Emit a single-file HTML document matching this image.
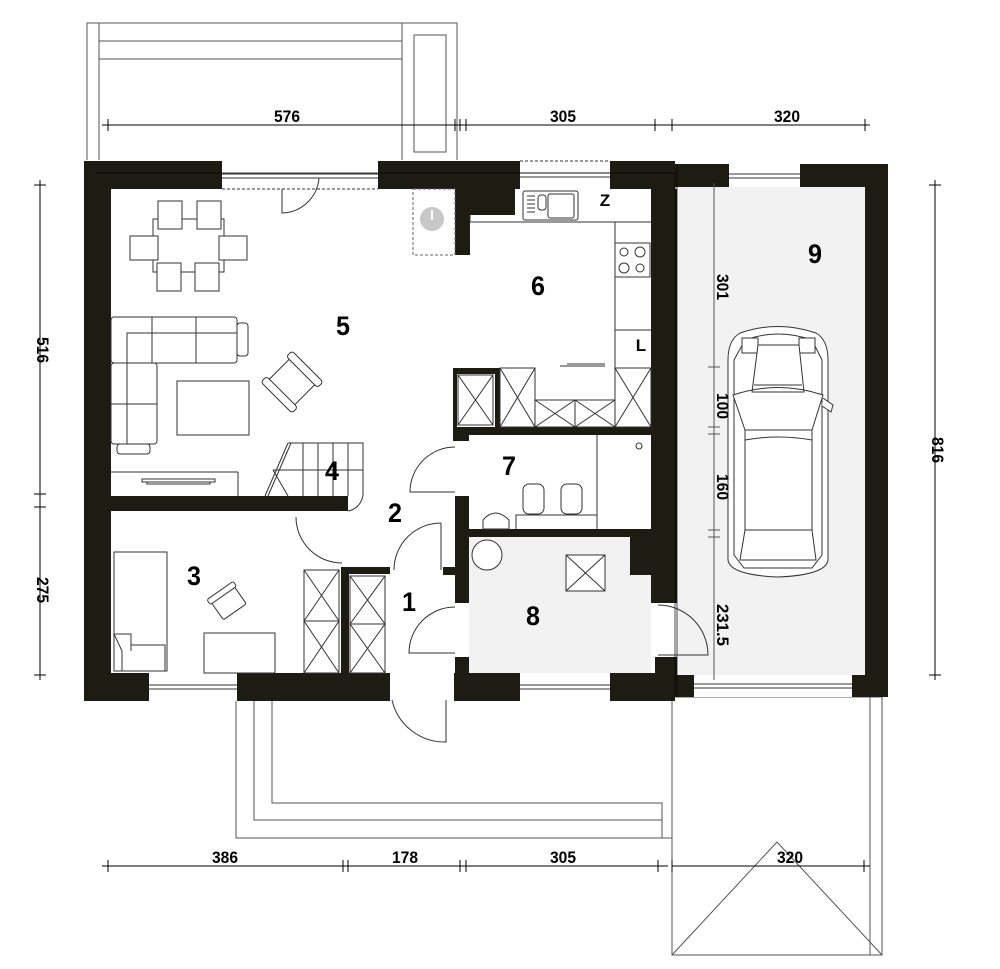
<!DOCTYPE html>
<html><head><meta charset="utf-8"><style>
html,body{margin:0;padding:0;background:#fff}
svg{display:block}
text{font-family:"Liberation Sans Narrow","Liberation Sans",sans-serif;font-weight:bold;fill:#000}
.t{font-size:17px}
.r{font-size:27px}
</style></head><body>
<svg width="1000" height="969" viewBox="0 0 1000 969" xmlns="http://www.w3.org/2000/svg">
<g fill="none" stroke="#555" stroke-width="1">
<path d="M87 160V23H457V160M99 160V23M99 41H402M99 59H402M402 23V160"/>
<rect x="414" y="35" width="32" height="117"/>
<path d="M236 700V838H672M254 700V820H662M272 700V803H662V838"/>
<rect x="672" y="697" width="210" height="258"/>
<path d="M870 697V955M672 955L777 842L882 955"/>
</g>
<rect x="675" y="187" width="190" height="488" fill="#f2f2f2"/>
<rect x="469" y="537" width="182" height="136" fill="#f2f2f2"/>
<g fill="#1c1c12">
<rect x="84" y="161" width="27" height="540"/>
<rect x="84" y="161" width="591" height="28"/>
<rect x="675" y="164" width="213" height="23"/>
<rect x="865" y="164" width="23" height="533"/>
<rect x="675" y="675" width="213" height="22"/>
<rect x="651" y="189" width="26" height="414"/>
<rect x="655" y="657" width="22" height="40"/>
<rect x="84" y="673" width="591" height="28"/>
<rect x="110" y="496" width="238" height="15"/>
<rect x="455" y="189" width="15" height="66"/>
<rect x="455" y="427" width="196" height="8"/>
<rect x="453" y="368" width="47" height="6"/>
<rect x="453" y="368" width="4" height="60"/>
<rect x="495" y="368" width="5" height="60"/>
<rect x="453" y="427" width="16" height="14"/>
<rect x="455" y="529" width="196" height="8"/>
<rect x="455" y="496" width="14" height="107"/>
<rect x="455" y="657" width="14" height="44"/>
<rect x="443" y="567" width="12" height="8"/>
<rect x="341" y="567" width="8" height="107"/>
<rect x="341" y="567" width="49" height="7"/>
<rect x="630" y="533" width="21" height="42"/>
<rect x="470" y="189" width="45" height="26"/>
</g>
<g fill="#fff" stroke="#333" stroke-width="1">
<rect x="222" y="161" width="156" height="28" stroke="none"/>
<rect x="520" y="161" width="90" height="28" stroke="none"/>
<rect x="729" y="164" width="71" height="23" stroke="none"/>
<rect x="149" y="673" width="88" height="28" stroke="none"/>
<rect x="520" y="673" width="90" height="28" stroke="none"/>
<rect x="694" y="675" width="158" height="22" stroke="none"/>
<rect x="390" y="673" width="64" height="28" stroke="none"/>
<rect x="651" y="603" width="26" height="54" stroke="none"/>
<rect x="455" y="603" width="14" height="54" stroke="none"/>
</g>
<g fill="none" stroke="#333" stroke-width="1">
<path d="M222 174H378M222 178H378M520 173H610M520 177H610M729 174H800M729 178H800M149 685H237M149 689H237M520 685H610M520 689H610M694 684H852M694 688H852"/>
<path d="M222 189H378M520 161H610" stroke-dasharray="3,2"/>
<path d="M96 173H675V697M677 164V697" stroke="#000" stroke-width="0.7"/>
<rect x="413" y="189" width="42" height="66" stroke-dasharray="3,2" stroke="#666"/>
</g>
<ellipse cx="432" cy="219" rx="12" ry="12" fill="#c8c8c8"/>
<rect x="431" y="210" width="2" height="10" fill="#fff"/>
<g fill="none" stroke="#333" stroke-width="1">
<path d="M282 189V213A38 38 0 0 0 319 178"/>
<path d="M455 447A45 45 0 0 0 410 492H455"/>
<path d="M296 517A46 46 0 0 0 342 563"/>
<path d="M363 443V493A18 18 0 0 1 348 511"/>
<path d="M441 523V570M441 523A47 47 0 0 0 394 570"/>
<path d="M455 607A46 46 0 0 0 409 653H455"/>
<path d="M392 700A54 54 0 0 0 446 742V700"/>
<path d="M658 605A50 50 0 0 1 708 655H658"/>
</g>
<g fill="#fff" stroke="#333" stroke-width="1">
<rect x="153" y="219" width="71" height="53"/>
<rect x="158" y="201" width="24" height="28"/><rect x="197" y="201" width="24" height="28"/>
<rect x="157" y="263" width="24" height="28"/><rect x="195" y="263" width="24" height="28"/>
<rect x="130" y="236" width="28" height="24"/><rect x="219" y="236" width="28" height="24"/>
<rect x="111" y="317" width="126" height="46" rx="3"/>
<path d="M152 317V363M196 317V363M127 363V333H237"/>
<rect x="237" y="323" width="11" height="33" rx="3"/>
<rect x="111" y="363" width="46" height="81" rx="3"/>
<path d="M111 404H157M127 363V444"/>
<rect x="117" y="444" width="33" height="10" rx="3"/>
<rect x="177" y="381" width="72" height="54"/>
<g transform="rotate(45 292 382)"><rect x="274" y="366" width="36" height="32" rx="3"/><rect x="270" y="360" width="44" height="8" rx="3"/><rect x="270" y="396" width="44" height="8" rx="3"/></g>
<path d="M110 472H238M238 472V496"/>
<rect x="142" y="479" width="73" height="3"/><rect x="147" y="482" width="63" height="2"/>
<path d="M288 443H363V496M288 443L265 496M291 443L268 496M273 470H363M303 443V496M318 443V496M333 443V496M348 443V496M273 470L288 496"/>
<rect x="114" y="552" width="53" height="119"/>
<path d="M114 634H131V651L131 645H165V671H122V651Z"/>
<rect x="204" y="633" width="71" height="40"/>
<g transform="rotate(-35 228 602)"><rect x="214" y="592" width="28" height="22" rx="2"/><rect x="212" y="588" width="32" height="6" rx="2"/></g>
<rect x="304" y="570" width="35" height="103"/><path d="M304 570L339 621M339 570L304 621M304 621H339M304 621L339 673M339 621L304 673"/>
<rect x="350" y="576" width="35" height="97"/><path d="M350 576L385 624M385 576L350 624M350 624H385M350 624L385 673M385 624L350 673"/>
<path d="M470 222H615V368M615 222H651M615 330H651M470 215V222"/>
<rect x="523" y="191" width="55" height="29" rx="2"/><rect x="548" y="194" width="26" height="24" rx="2"/>
<rect x="538" y="195" width="8" height="15" rx="3"/>
<path d="M527 196H535M527 200H535M527 204H535M527 208H535M527 212H535"/>
<rect x="615" y="243" width="35" height="34"/>
<circle cx="624" cy="252" r="4"/><circle cx="640" cy="252" r="5"/><circle cx="624" cy="268" r="5"/><circle cx="640" cy="268" r="4"/>
<rect x="458" y="375" width="35" height="50"/><path d="M458 375L493 425M493 375L458 425"/>
<rect x="500" y="368" width="35" height="59"/><path d="M500 368L535 427M535 368L500 427"/>
<rect x="535" y="400" width="40" height="27"/><path d="M535 400L575 427M575 400L535 427"/>
<rect x="575" y="400" width="40" height="27"/><path d="M575 400L615 427M615 400L575 427"/>
<rect x="615" y="368" width="36" height="59"/><path d="M615 368L651 427M651 368L615 427"/>
<path d="M560 366H605M567 364H605"/>
<path d="M597 435V529M516 529V515H597"/>
<circle cx="639" cy="446" r="3"/>
<rect x="523" y="484" width="21" height="30" rx="6"/><rect x="561" y="484" width="21" height="30" rx="6"/>
<path d="M483 529V520Q495 506 509 520V529Z"/>
<circle cx="487" cy="555" r="15"/>
<rect x="566" y="555" width="39" height="36"/><path d="M566 555L605 591M605 555L566 591"/>
<path d="M740 333Q778 320 816 333Q828 340 828 360V560Q826 575 778 577Q730 575 728 560V360Q728 340 740 333Z"/>
<path d="M745 340Q778 328 812 340L822 360V555L812 568H744L734 555V360Z"/>
<rect x="742" y="338" width="16" height="15"/><rect x="799" y="338" width="16" height="15"/>
<path d="M758 345H799L804 392H752ZM754 385H802M733 395Q778 380 823 395L812 430H745ZM745 430V530M812 430V530M745 440Q778 434 812 440M745 530L740 560H816L812 530Z"/>
<path d="M823 398L833 405L831 412L822 406"/>
</g>
<g stroke="#000" stroke-width="1" fill="none">
<path d="M102 125H675M108 119V131M455 119V131M460 119V131M466 119V131M655 119V131M672 119V131M865 119V131M672 125H870"/>
<path d="M102 866H668M108 860V872M343 860V872M348 860V872M460 860V872M466 860V872M658 860V872M672 866H870M672 860V872M864 860V872"/>
<path d="M40 180V680M34 185H46M34 494H46M34 507H46M34 675H46"/>
<path d="M935 180V680M929 185H941M929 675H941"/>
<path d="M714 183V680M708 367H720M708 427H720M708 434H720M708 530H720M708 537H720" stroke="#555"/>
</g>
<g class="t">
<text x="274" y="122" textLength="26" lengthAdjust="spacingAndGlyphs">576</text>
<text x="550" y="122" textLength="26" lengthAdjust="spacingAndGlyphs">305</text>
<text x="774" y="122" textLength="26" lengthAdjust="spacingAndGlyphs">320</text>
<text x="212" y="863" textLength="26" lengthAdjust="spacingAndGlyphs">386</text>
<text x="392" y="863" textLength="26" lengthAdjust="spacingAndGlyphs">178</text>
<text x="550" y="863" textLength="26" lengthAdjust="spacingAndGlyphs">305</text>
<text x="777" y="863" textLength="26" lengthAdjust="spacingAndGlyphs">320</text>
<text transform="translate(37 337) rotate(90)" textLength="26" lengthAdjust="spacingAndGlyphs">516</text>
<text transform="translate(37 577) rotate(90)" textLength="26" lengthAdjust="spacingAndGlyphs">275</text>
<text transform="translate(932 437) rotate(90)" textLength="26" lengthAdjust="spacingAndGlyphs">816</text>
<text transform="translate(717 274) rotate(90)" textLength="26" lengthAdjust="spacingAndGlyphs">301</text>
<text transform="translate(717 393) rotate(90)" textLength="26" lengthAdjust="spacingAndGlyphs">100</text>
<text transform="translate(717 474) rotate(90)" textLength="26" lengthAdjust="spacingAndGlyphs">160</text>
<text transform="translate(717 604) rotate(90)" textLength="42" lengthAdjust="spacingAndGlyphs">231.5</text>
<text x="605" y="206" text-anchor="middle">Z</text>
<text x="641" y="351" text-anchor="middle">L</text>
</g>
<g class="r">
<text x="336" y="335" textLength="14" lengthAdjust="spacingAndGlyphs">5</text>
<text x="531" y="295" textLength="14" lengthAdjust="spacingAndGlyphs">6</text>
<text x="808" y="263" textLength="14" lengthAdjust="spacingAndGlyphs">9</text>
<text x="325" y="480" textLength="14" lengthAdjust="spacingAndGlyphs">4</text>
<text x="388" y="522" textLength="14" lengthAdjust="spacingAndGlyphs">2</text>
<text x="502" y="475" textLength="14" lengthAdjust="spacingAndGlyphs">7</text>
<text x="187" y="585" textLength="14" lengthAdjust="spacingAndGlyphs">3</text>
<text x="402" y="611" textLength="14" lengthAdjust="spacingAndGlyphs">1</text>
<text x="526" y="625" textLength="14" lengthAdjust="spacingAndGlyphs">8</text>
</g>
</svg>
</body></html>
